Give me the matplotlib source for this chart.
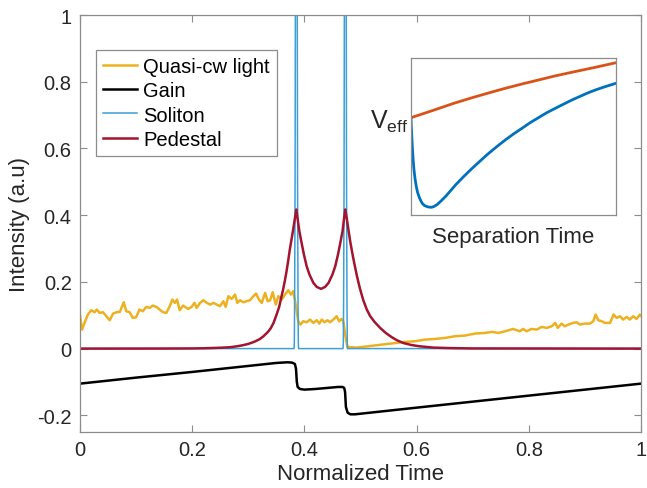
import matplotlib
matplotlib.use('Agg')
import matplotlib.pyplot as plt
from matplotlib.ticker import FuncFormatter

plt.rcParams['font.family'] = ['Liberation Sans', 'DejaVu Sans']
plt.rcParams['axes.unicode_minus'] = False
plt.rcParams['mathtext.default'] = 'regular'

# quasi-cw light
cw_x = [0.0, 0.0036, 0.008, 0.014, 0.020, 0.026, 0.030, 0.035, 0.041, 0.047, 0.053, 0.059, 0.065, 0.071,
        0.078, 0.0825, 0.0886, 0.094, 0.100, 0.106, 0.112, 0.118, 0.124, 0.130, 0.136, 0.142, 0.148, 0.154,
        0.160, 0.1646, 0.169, 0.173, 0.1777, 0.1836, 0.189, 0.193, 0.199, 0.204, 0.208, 0.214, 0.220, 0.226,
        0.232, 0.238, 0.244, 0.2496, 0.2555, 0.2597, 0.2644, 0.2704, 0.2763, 0.2805, 0.2852, 0.291, 0.297,
        0.303, 0.309, 0.3137, 0.319, 0.324, 0.330, 0.3345, 0.339, 0.3435, 0.349, 0.3535, 0.3595, 0.3654,
        0.3713, 0.376, 0.380, 0.383, 0.3856, 0.389, 0.393, 0.398, 0.404, 0.410, 0.416, 0.422, 0.4266, 0.431,
        0.436, 0.441, 0.4456, 0.4516, 0.4575, 0.462, 0.4665, 0.4694, 0.4729, 0.4765, 0.493, 0.523, 0.5526,
        0.5615, 0.579, 0.597, 0.615, 0.633, 0.651, 0.668, 0.686, 0.704, 0.722, 0.734, 0.746, 0.758, 0.772,
        0.784, 0.790, 0.796, 0.805, 0.814, 0.823, 0.832, 0.841, 0.847, 0.8515, 0.8586, 0.864, 0.8705, 0.879,
        0.885, 0.891, 0.900, 0.909, 0.915, 0.919, 0.924, 0.930, 0.936, 0.945, 0.951, 0.9566, 0.9626, 0.968,
        0.9745, 0.980, 0.986, 0.992, 0.998, 1.0]
cw_y = [0.100, 0.057, 0.077, 0.102, 0.115, 0.109, 0.117, 0.107, 0.109, 0.097, 0.085, 0.105, 0.109, 0.110,
        0.139, 0.112, 0.109, 0.092, 0.094, 0.117, 0.112, 0.125, 0.122, 0.129, 0.125, 0.117, 0.109, 0.107,
        0.127, 0.147, 0.137, 0.147, 0.115, 0.129, 0.123, 0.119, 0.125, 0.137, 0.122, 0.137, 0.145, 0.137,
        0.132, 0.137, 0.132, 0.127, 0.142, 0.125, 0.157, 0.149, 0.162, 0.137, 0.145, 0.139, 0.142,
        0.145, 0.157, 0.165, 0.147, 0.137, 0.167, 0.142, 0.145, 0.169, 0.132, 0.157, 0.147, 0.162,
        0.175, 0.162, 0.172, 0.147, 0.120, 0.082, 0.072, 0.082, 0.079, 0.087, 0.077, 0.085, 0.075, 0.087,
        0.079, 0.085, 0.079, 0.087, 0.097, 0.082, 0.089, 0.082, 0.040, 0.005, 0.003, 0.009, 0.015,
        0.017, 0.020, 0.022, 0.027, 0.029, 0.032, 0.037, 0.039, 0.045, 0.047, 0.050, 0.047, 0.052, 0.059,
        0.052, 0.059, 0.052, 0.059, 0.057, 0.065, 0.062, 0.067, 0.077, 0.062, 0.075, 0.067, 0.072, 0.077,
        0.079, 0.072, 0.075, 0.075, 0.082, 0.102, 0.085, 0.082, 0.077, 0.077, 0.102, 0.092, 0.097, 0.087,
        0.095, 0.087, 0.097, 0.089, 0.102, 0.098]

# gain
gain_x = [0, 0.1, 0.2, 0.3, 0.35, 0.37, 0.378, 0.383, 0.385, 0.3865, 0.388, 0.392, 0.40, 0.42, 0.44, 0.46,
          0.468, 0.471, 0.4725, 0.474, 0.477, 0.482, 0.49, 0.6, 0.7, 0.8, 0.9, 1.0]
gain_y = [-0.105, -0.087, -0.070, -0.052, -0.043, -0.041, -0.042, -0.046, -0.060, -0.100, -0.115, -0.121,
          -0.123, -0.121, -0.118, -0.115, -0.115, -0.118, -0.130, -0.175, -0.192, -0.197, -0.197, -0.177,
          -0.159, -0.141, -0.123, -0.105]

# soliton pair (peaks go off the top of the axes)
sol_x = [0.0, 0.3816, 0.3821, 0.3826, 0.3834, 0.3841, 0.3856, 0.3871, 0.3878, 0.3886, 0.3891, 0.3896,
         0.4689, 0.4694, 0.4699, 0.4707, 0.4714, 0.4729, 0.4744, 0.4751, 0.4759, 0.4764, 0.4769, 1.0]
sol_y = [0, 0, 0.02, 0.15, 0.5, 1.2, 5, 1.2, 0.5, 0.15, 0.02, 0,
         0, 0.02, 0.15, 0.5, 1.2, 5, 1.2, 0.5, 0.15, 0.02, 0, 0]

# pedestal
ped_x = [0, 0.15, 0.20, 0.22, 0.24, 0.255, 0.267, 0.28, 0.29, 0.30, 0.31, 0.32, 0.327, 0.335, 0.340,
         0.345, 0.350, 0.355, 0.359, 0.362, 0.365, 0.368, 0.371, 0.374, 0.377, 0.380, 0.383, 0.3856,
         0.388, 0.391, 0.395, 0.399, 0.404, 0.409, 0.416, 0.422, 0.4296, 0.437, 0.443, 0.450, 0.455,
         0.460, 0.464, 0.468, 0.4705, 0.4729,
         0.476, 0.479, 0.482, 0.485, 0.489, 0.494, 0.499, 0.505, 0.511, 0.517, 0.525, 0.535, 0.545,
         0.555, 0.565, 0.576, 0.59, 0.605, 0.63, 0.66, 0.70, 1.0]
ped_y = [0, 0.0002, 0.0005, 0.001, 0.002, 0.003, 0.004, 0.007, 0.010, 0.014, 0.020, 0.028, 0.037, 0.050,
         0.061, 0.077, 0.100, 0.125, 0.155, 0.177, 0.202, 0.230, 0.262, 0.297, 0.327, 0.357, 0.390, 0.417,
         0.388, 0.352, 0.317, 0.283, 0.247, 0.222, 0.197, 0.185, 0.179, 0.185, 0.197, 0.222, 0.247,
         0.283, 0.317, 0.352, 0.388, 0.417,
         0.385, 0.350, 0.318, 0.290, 0.255, 0.215, 0.180, 0.145, 0.118, 0.098, 0.080, 0.062, 0.047,
         0.035, 0.025, 0.017, 0.011, 0.007, 0.003, 0.0015, 0.0005, 0]

# inset: effective potential vs separation (normalised units)
veff_x = [0, 0.07, 0.136, 0.215, 0.298, 0.38, 0.46, 0.54, 0.622, 0.70, 0.784, 0.9, 1.0]
veff_top = [0.62, 0.650, 0.679, 0.714, 0.747, 0.778, 0.807, 0.834, 0.86, 0.885, 0.909, 0.941, 0.970]
veff_bx = [0, 0.003, 0.0065, 0.010, 0.0146, 0.020, 0.026, 0.032, 0.039, 0.047, 0.055, 0.066, 0.079,
           0.090, 0.100, 0.112, 0.128, 0.147, 0.169, 0.192, 0.217, 0.257, 0.298, 0.339, 0.379,
           0.42, 0.46, 0.50, 0.541, 0.58, 0.622, 0.66, 0.703, 0.744, 0.784, 0.825, 0.865, 0.905, 0.946, 1.0]
veff_bot = [0.616, 0.52, 0.435, 0.36, 0.287, 0.228, 0.180, 0.145, 0.117, 0.093, 0.074, 0.060, 0.053,
            0.050, 0.049, 0.054, 0.067, 0.090, 0.119, 0.153, 0.191, 0.245, 0.297, 0.346, 0.393,
            0.437, 0.478, 0.516, 0.552, 0.587, 0.620, 0.650, 0.679, 0.706, 0.732, 0.756, 0.779, 0.799,
            0.817, 0.839]

xticks = [0, 0.2, 0.4, 0.6, 0.8, 1]
yticks = [-0.2, 0, 0.2, 0.4, 0.6, 0.8, 1]

spine_c = '#8c8c8c'
text_c = '#262626'

fig = plt.figure(figsize=(6.47, 4.89), dpi=100)
ax = fig.add_axes([80 / 647, 56 / 489, 561 / 647, 417 / 489])

ax.plot(cw_x, cw_y, color='#EDB120', lw=1.8, label='Quasi-cw light')
ax.plot(gain_x, gain_y, color='black', lw=1.8, label='Gain')
ax.plot(sol_x, sol_y, color='#3d9fd6', lw=1.1, label='Soliton')
ax.plot(ped_x, ped_y, color='#A2142F', lw=1.8, label='Pedestal')

ax.set_xlim(0, 1)
ax.set_ylim(-0.25, 1)
ax.set_xticks(xticks)
ax.set_yticks(yticks)
fmt = FuncFormatter(lambda v, p: ('%g' % round(v, 2)))
ax.xaxis.set_major_formatter(fmt)
ax.yaxis.set_major_formatter(fmt)
ax.tick_params(direction='in', length=5, width=0.8, color=spine_c, labelcolor=text_c,
               labelsize=14.5, top=True, right=True, pad=6)
for s in ax.spines.values():
    s.set_color(spine_c)
    s.set_linewidth(0.9)
ax.set_xlabel('Normalized Time', fontsize=16, color=text_c, labelpad=3)
ax.set_ylabel('Intensity (a.u)', fontsize=16, color=text_c, labelpad=5)

leg = ax.legend(loc='upper left', bbox_to_anchor=(0.0285, 0.917), borderaxespad=0,
                fontsize=14.5, handlelength=1.7, handletextpad=0.3, labelspacing=0.27,
                borderpad=0.35, fancybox=False, framealpha=1)
leg.get_frame().set_edgecolor(spine_c)
leg.get_frame().set_linewidth(0.9)
for t in leg.get_texts():
    t.set_color('black')

ins = fig.add_axes([411 / 647, 273 / 489, 205 / 647, 157 / 489])
ins.plot(veff_x, veff_top, color='#D95319', lw=2)
ins.plot(veff_bx, veff_bot, color='#0072BD', lw=2)
ins.set_xlim(0, 1)
ins.set_ylim(0, 1)
ins.set_xticks([])
ins.set_yticks([])
for s in ins.spines.values():
    s.set_color(spine_c)
    s.set_linewidth(0.9)
ins.set_xlabel('Separation Time', fontsize=16, color=text_c, labelpad=8)
ins.text(-0.015, 0.6, r'V$_{eff}$', transform=ins.transAxes, ha='right', va='center',
         fontsize=18, color=text_c)

fig.savefig('out.png', dpi=100)
